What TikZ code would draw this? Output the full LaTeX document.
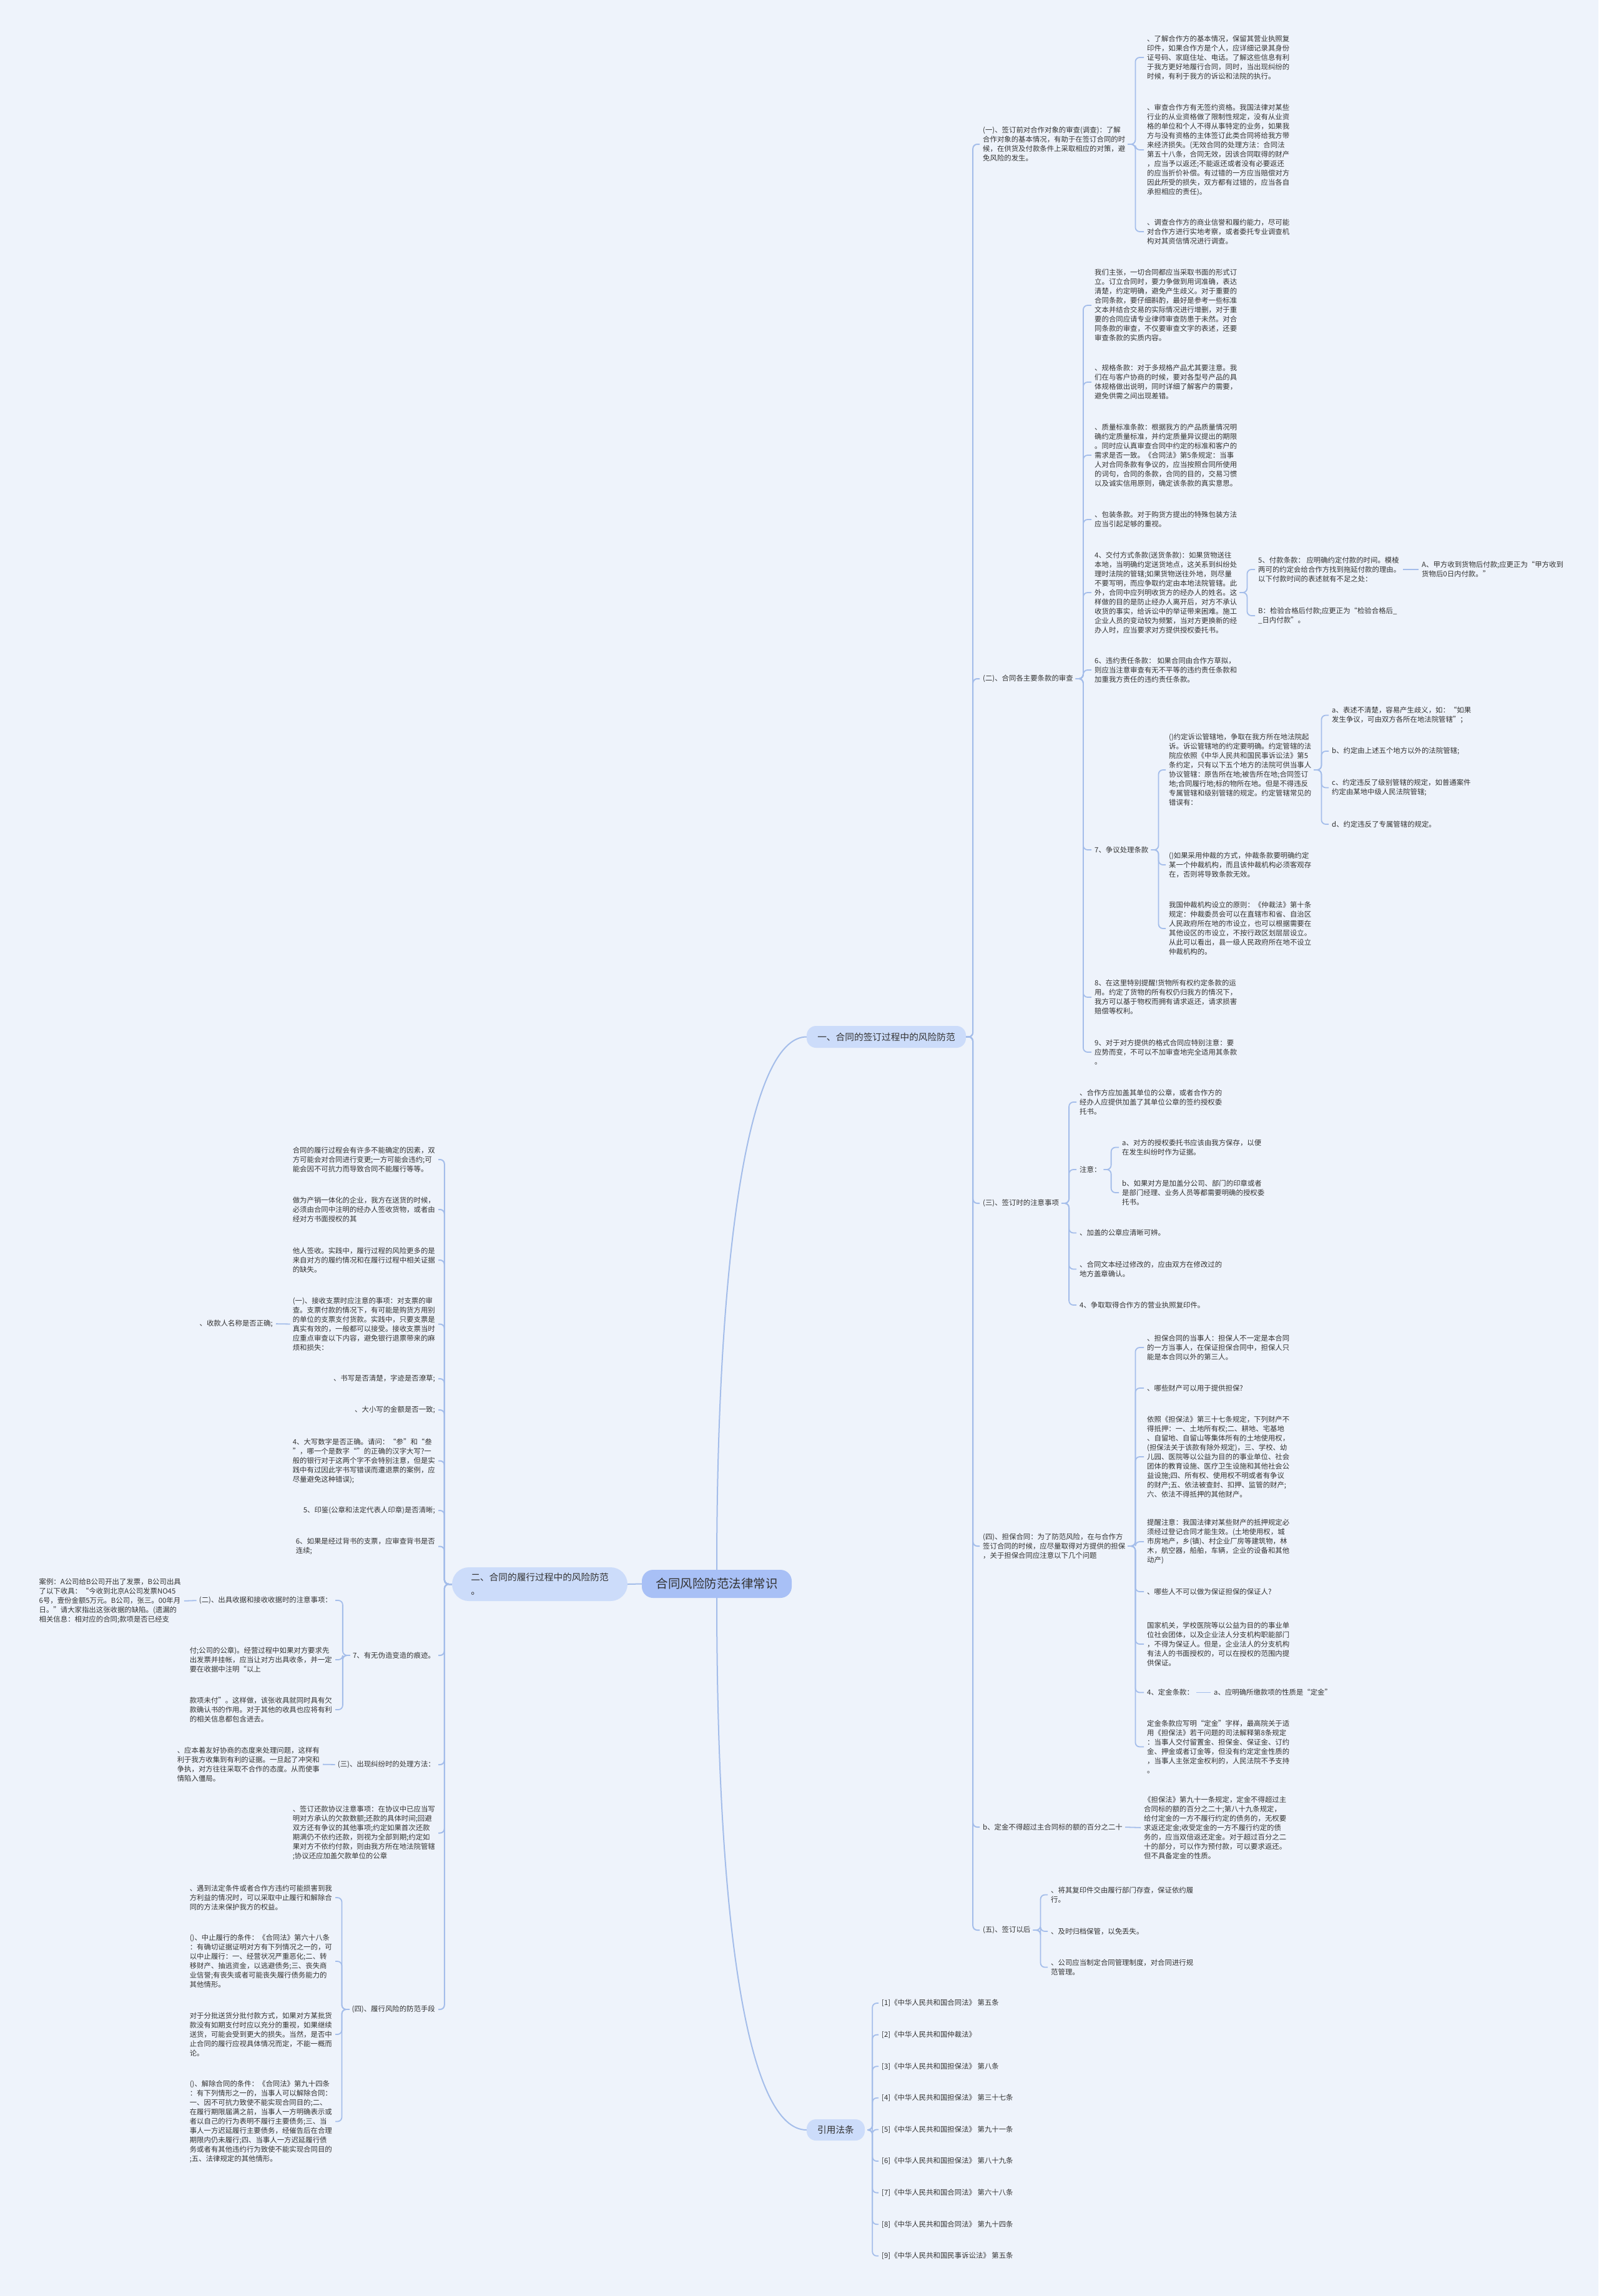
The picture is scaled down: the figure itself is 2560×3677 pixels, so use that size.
\documentclass[tikz,border=0pt]{standalone}
\usepackage{fontspec}
\setmainfont{Noto Sans CJK SC}
\definecolor{bgc}{HTML}{EEF3FB}
\definecolor{linec}{HTML}{A4BDEA}
\definecolor{rootc}{HTML}{A8C0F6}
\definecolor{mainc}{HTML}{CCDCFA}
\definecolor{textc}{HTML}{333333}

\begin{document}
\begin{tikzpicture}[x=1pt,y=-1pt,
  txt/.style={inner sep=0pt,align=left,text=textc,font=\fontsize{11.4}{15}\selectfont},
  rt/.style={txt,anchor=west},
  lt/.style={txt,anchor=east},
  link/.style={draw=linec,line width=1.8pt,rounded corners=7pt,shorten <=4pt,shorten >=5pt},
  trunk/.style={draw=linec,line width=2pt,rounded corners=7pt},
  mainbox/.style={fill=mainc,text=textc,inner sep=0pt,font=\fontsize{14.7}{22}\selectfont}]
\fill[bgc] (0,0) rectangle (2560,3677);
\useasboundingbox (0,0) rectangle (2560,3677);

\node[fill=rootc,rounded corners=18pt,minimum width=240pt,minimum height=45pt,inner sep=0pt,text=textc,font=\fontsize{19.5}{22}\selectfont] (root) at (1148,2536.5) {合同风险防范法律常识};
\node[mainbox,rounded corners=15pt,minimum width=255pt,minimum height=35pt] (sign) at (1419.5,1660.5) {一、合同的签订过程中的风险防范};
\node[mainbox,rounded corners=27pt,minimum width=281pt,minimum height=54pt,align=left] (perf) at (864.5,2537) {二、合同的履行过程中的风险防范\\。};
\node[mainbox,rounded corners=15pt,minimum width=93pt,minimum height=34pt] (law) at (1338.5,3411) {引用法条};

% right side
\node[rt] (sa) at (1574,231) {(一)、签订前对合作对象的审查(调查)：了解\\合作对象的基本情况，有助于在签订合同的时\\候，在供货及付款条件上采取相应的对策，避\\免风险的发生。};
\node[rt] (sa1) at (1837,92) {、了解合作方的基本情况，保留其营业执照复\\印件，如果合作方是个人，应详细记录其身份\\证号码、家庭住址、电话。了解这些信息有利\\于我方更好地履行合同，同时，当出现纠纷的\\时候，有利于我方的诉讼和法院的执行。};
\node[rt] (sa2) at (1837,240) {、审查合作方有无签约资格。我国法律对某些\\行业的从业资格做了限制性规定，没有从业资\\格的单位和个人不得从事特定的业务，如果我\\方与没有资格的主体签订此类合同将给我方带\\来经济损失。(无效合同的处理方法：合同法\\第五十八条，合同无效，因该合同取得的财产\\，应当予以返还;不能返还或者没有必要返还\\的应当折价补偿。有过错的一方应当赔偿对方\\因此所受的损失，双方都有过错的，应当各自\\承担相应的责任)。};
\node[rt] (sa3) at (1837,371) {、调查合作方的商业信誉和履约能力，尽可能\\对合作方进行实地考察，或者委托专业调查机\\构对其资信情况进行调查。};

\node[rt] (sb) at (1574,1087) {(二)、合同各主要条款的审查};
\node[rt] (sb1) at (1753,489) {我们主张，一切合同都应当采取书面的形式订\\立。订立合同时，要力争做到用词准确，表达\\清楚，约定明确，避免产生歧义。对于重要的\\合同条款，要仔细斟酌，最好是参考一些标准\\文本并结合交易的实际情况进行增删，对于重\\要的合同应请专业律师审查防患于未然。对合\\同条款的审查，不仅要审查文字的表述，还要\\审查条款的实质内容。};
\node[rt] (sb2) at (1753,612) {、规格条款：对于多规格产品尤其要注意。我\\们在与客户协商的时候，要对各型号产品的具\\体规格做出说明，同时详细了解客户的需要，\\避免供需之间出现差错。};
\node[rt] (sb3) at (1753,729) {、质量标准条款：根据我方的产品质量情况明\\确约定质量标准，并约定质量异议提出的期限\\。同时应认真审查合同中约定的标准和客户的\\需求是否一致。《合同法》第5条规定：当事\\人对合同条款有争议的，应当按照合同所使用\\的词句，合同的条款，合同的目的，交易习惯\\以及诚实信用原则，确定该条款的真实意思。};
\node[rt] (sb4) at (1753,832) {、包装条款。对于购货方提出的特殊包装方法\\应当引起足够的重视。};
\node[rt] (sb5) at (1753,949) {4、交付方式条款(送货条款)：如果货物送往\\本地，当明确约定送货地点，这关系到纠纷处\\理时法院的管辖;如果货物送往外地，则尽量\\不要写明，而应争取约定由本地法院管辖。此\\外，合同中应列明收货方的经办人的姓名。这\\样做的目的是防止经办人离开后，对方不承认\\收货的事实，给诉讼中的举证带来困难。施工\\企业人员的变动较为频繁，当对方更换新的经\\办人时，应当要求对方提供授权委托书。};
\node[rt] (sb5a) at (2015,912) {5、付款条款： 应明确约定付款的时间。模棱\\两可的约定会给合作方找到拖延付款的理由。\\以下付款时间的表述就有不足之处：};
\node[rt] (sb5c) at (2277,912) {A、甲方收到货物后付款;应更正为“甲方收到\\货物后0日内付款。”};
\node[rt] (sb5b) at (2015,986) {B：检验合格后付款;应更正为“检验合格后\_\\\_日内付款”。};
\node[rt] (sb6) at (1753,1073) {6、违约责任条款： 如果合同由合作方草拟，\\则应当注意审查有无不平等的违约责任条款和\\加重我方责任的违约责任条款。};
\node[rt] (sb7) at (1753,1361) {7、争议处理条款};
\node[rt] (sb7a) at (1872,1233) {()约定诉讼管辖地，争取在我方所在地法院起\\诉。诉讼管辖地的约定要明确。约定管辖的法\\院应依照《中华人民共和国民事诉讼法》第5\\条约定，只有以下五个地方的法院可供当事人\\协议管辖：原告所在地;被告所在地;合同签订\\地;合同履行地;标的物所在地。但是不得违反\\专属管辖和级别管辖的规定。约定管辖常见的\\错误有：};
\node[rt] (sb7a1) at (2133,1145.5) {a、表述不清楚，容易产生歧义，如：“如果\\发生争议，可由双方各所在地法院管辖”；};
\node[rt] (sb7a2) at (2133,1203) {b、约定由上述五个地方以外的法院管辖;};
\node[rt] (sb7a3) at (2133,1261.5) {c、约定违反了级别管辖的规定，如普通案件\\约定由某地中级人民法院管辖;};
\node[rt] (sb7a4) at (2133,1320) {d、约定违反了专属管辖的规定。};
\node[rt] (sb7b) at (1872,1385) {()如果采用仲裁的方式，仲裁条款要明确约定\\某一个仲裁机构，而且该仲裁机构必须客观存\\在，否则将导致条款无效。};
\node[rt] (sb7c) at (1872,1487) {我国仲裁机构设立的原则：《仲裁法》第十条\\规定：仲裁委员会可以在直辖市和省、自治区\\人民政府所在地的市设立，也可以根据需要在\\其他设区的市设立，不按行政区划层层设立。\\从此可以看出，县一级人民政府所在地不设立\\仲裁机构的。};
\node[rt] (sb8) at (1753,1597) {8、在这里特别提醒!货物所有权约定条款的运\\用。约定了货物的所有权仍归我方的情况下，\\我方可以基于物权而拥有请求返还，请求损害\\赔偿等权利。};
\node[rt] (sb9) at (1753,1685) {9、对于对方提供的格式合同应特别注意：要\\应势而变，不可以不加审查地完全适用其条款\\。};

\node[rt] (sc) at (1574,1927) {(三)、签订时的注意事项};
\node[rt] (sc1) at (1729,1765) {、合作方应加盖其单位的公章，或者合作方的\\经办人应提供加盖了其单位公章的签约授权委\\托书。};
\node[rt] (sc2) at (1729,1873) {注意：};
\node[rt] (sc2a) at (1797,1837.5) {a、对方的授权委托书应该由我方保存，以便\\在发生纠纷时作为证据。};
\node[rt] (sc2b) at (1797,1910) {b、如果对方是加盖分公司、部门的印章或者\\是部门经理、业务人员等都需要明确的授权委\\托书。};
\node[rt] (sc3) at (1729,1974.5) {、加盖的公章应清晰可辨。};
\node[rt] (sc4) at (1729,2032.5) {、合同文本经过修改的，应由双方在修改过的\\地方盖章确认。};
\node[rt] (sc5) at (1729,2090) {4、争取取得合作方的营业执照复印件。};

\node[rt] (sd) at (1574,2476) {(四)、担保合同：为了防范风险，在与合作方\\签订合同的时候，应尽量取得对方提供的担保\\，关于担保合同应注意以下几个问题};
\node[rt] (sd1) at (1837,2158) {、担保合同的当事人：担保人不一定是本合同\\的一方当事人，在保证担保合同中，担保人只\\能是本合同以外的第三人。};
\node[rt] (sd2) at (1837,2223) {、哪些财产可以用于提供担保?};
\node[rt] (sd3) at (1837,2333) {依照《担保法》第三十七条规定，下列财产不\\得抵押：一、土地所有权;二、耕地、宅基地\\、自留地、自留山等集体所有的土地使用权，\\(担保法关于该款有除外规定)，三、学校、幼\\儿园、医院等以公益为目的的事业单位、社会\\团体的教育设施、医疗卫生设施和其他社会公\\益设施;四、所有权、使用权不明或者有争议\\的财产;五、依法被查封、扣押、监管的财产;\\六、依法不得抵押的其他财产。};
\node[rt] (sd4) at (1837,2469) {提醒注意：我国法律对某些财产的抵押规定必\\须经过登记合同才能生效。(土地使用权，城\\市房地产，乡(镇)、村企业厂房等建筑物，林\\木，航空器，船舶，车辆，企业的设备和其他\\动产)};
\node[rt] (sd5) at (1837,2549) {、哪些人不可以做为保证担保的保证人?};
\node[rt] (sd6) at (1837,2633) {国家机关，学校医院等以公益为目的的事业单\\位社会团体，以及企业法人分支机构职能部门\\，不得为保证人。但是，企业法人的分支机构\\有法人的书面授权的，可以在授权的范围内提\\供保证。};
\node[rt] (sd7) at (1837,2710.5) {4、定金条款：};
\node[rt] (sd7a) at (1944,2710.5) {a、应明确所缴款项的性质是“定金”};
\node[rt] (sd8) at (1837,2797.5) {定金条款应写明“定金”字样，最高院关于适\\用《担保法》若干问题的司法解释第8条规定\\：当事人交付留置金、担保金、保证金、订约\\金、押金或者订金等，但没有约定定金性质的\\，当事人主张定金权利的，人民法院不予支持\\。};
\node[rt] (sdb) at (1574,2926) {b、定金不得超过主合同标的额的百分之二十};
\node[rt] (sdb1) at (1832,2927) {《担保法》第九十一条规定，定金不得超过主\\合同标的额的百分之二十;第八十九条规定，\\给付定金的一方不履行约定的债务的，无权要\\求返还定金;收受定金的一方不履行约定的债\\务的，应当双倍返还定金。对于超过百分之二\\十的部分，可以作为预付款，可以要求返还。\\但不具备定金的性质。};

\node[rt] (se) at (1574,3091) {(五)、签订以后};
\node[rt] (se1) at (1683,3034.5) {、将其复印件交由履行部门存查，保证依约履\\行。};
\node[rt] (se2) at (1683,3093) {、及时归档保管，以免丢失。};
\node[rt] (se3) at (1683,3150.5) {、公司应当制定合同管理制度，对合同进行规\\范管理。};

\foreach \t [count=\i] in {合同法》 第五条,仲裁法》,担保法》 第八条,担保法》 第三十七条,担保法》 第九十一条,担保法》 第八十九条,合同法》 第六十八条,合同法》 第九十四条,民事诉讼法》 第五条}
  \node[rt] (law\i) at (1412,3157.4+50.6*\i) {[\i]《中华人民共和国\t};

% left side
\node[lt] (pl1) at (697,1857) {合同的履行过程会有许多不能确定的因素，双\\方可能会对合同进行变更;一方可能会违约;可\\能会因不可抗力而导致合同不能履行等等。};
\node[lt] (pl2) at (697,1937) {做为产销一体化的企业，我方在送货的时候，\\必须由合同中注明的经办人签收货物，或者由\\经对方书面授权的其};
\node[lt] (pl3) at (697,2018) {他人签收。实践中，履行过程的风险更多的是\\来自对方的履约情况和在履行过程中相关证据\\的缺失。};
\node[lt] (pl4) at (697,2120.5) {(一)、接收支票时应注意的事项：对支票的审\\查。支票付款的情况下，有可能是购货方用别\\的单位的支票支付货款。实践中，只要支票是\\真实有效的，一般都可以接受。接收支票当时\\应重点审查以下内容，避免银行退票带来的麻\\烦和损失：};
\node[lt] (pl4a) at (437,2120) {、收款人名称是否正确;};
\node[lt] (pl5) at (697,2208) {、书写是否清楚，字迹是否潦草;};
\node[lt] (pl6) at (697,2258) {、大小写的金额是否一致;};
\node[lt] (pl7) at (697,2339.5) {4、大写数字是否正确。请问：“参”和“叁\\”，哪一个是数字“”的正确的汉字大写?一\\般的银行对于这两个字不会特别注意，但是实\\践中有过因此字书写错误而遭退票的案例，应\\尽量避免这种错误);};
\node[lt] (pl8) at (697,2419) {5、印鉴(公章和法定代表人印章)是否清晰;};
\node[lt] (pl9) at (697,2476.5) {6、如果是经过背书的支票，应审查背书是否\\连续;};
\node[lt] (pl10) at (697,2651) {7、有无伪造变造的痕迹。};
\node[lt] (pl10a) at (532,2563) {(二)、出具收据和接收收据时的注意事项：};
\node[lt] (pl10d) at (290,2564) {案例：A公司给B公司开出了发票，B公司出具\\了以下收具：“今收到北京A公司发票NO45\\6号，壹份金额5万元。B公司，张三。00年月\\日。”请大家指出这张收据的缺陷。(遗漏的\\相关信息：相对应的合同;款项是否已经支};
\node[lt] (pl10b) at (532,2658) {付;公司的公章)。经营过程中如果对方要求先\\出发票并挂帐，应当让对方出具收条，并一定\\要在收据中注明“以上};
\node[lt] (pl10c) at (532,2738) {款项未付”。这样做，该张收具就同时具有欠\\款确认书的作用。对于其他的收具也应将有利\\的相关信息都包含进去。};
\node[lt] (pl11) at (697,2826) {(三)、出现纠纷时的处理方法：};
\node[lt] (pl11a) at (512,2825.5) {、应本着友好协商的态度来处理问题，这样有\\利于我方收集到有利的证据。一旦起了冲突和\\争执，对方往往采取不合作的态度。从而使事\\情陷入僵局。};
\node[lt] (pl12) at (697,2935.5) {、签订还款协议注意事项：在协议中已应当写\\明对方承认的欠款数额;还款的具体时间;回避\\双方还有争议的其他事项;约定如果首次还款\\期满仍不依约还款，则视为全部到期;约定如\\果对方不依约付款，则由我方所在地法院管辖\\;协议还应加盖欠款单位的公章};
\node[lt] (pl13) at (697,3218) {(四)、履行风险的防范手段};
\node[lt] (pl13a) at (532,3039) {、遇到法定条件或者合作方违约可能损害到我\\方利益的情况时，可以采取中止履行和解除合\\同的方法来保护我方的权益。};
\node[lt] (pl13b) at (532,3141) {()、中止履行的条件：《合同法》第六十八条\\：有确切证据证明对方有下列情况之一的，可\\以中止履行：一、经营状况严重恶化;二、转\\移财产、抽逃资金，以逃避债务;三、丧失商\\业信誉;有丧失或者可能丧失履行债务能力的\\其他情形。};
\node[lt] (pl13c) at (532,3258) {对于分批送货分批付款方式，如果对方某批货\\款没有如期支付时应以充分的重视，如果继续\\送货，可能会受到更大的损失。当然，是否中\\止合同的履行应视具体情况而定，不能一概而\\论。};
\node[lt] (pl13d) at (532,3397.5) {()、解除合同的条件：《合同法》第九十四条\\：有下列情形之一的，当事人可以解除合同：\\一、因不可抗力致使不能实现合同目的;二、\\在履行期限届满之前，当事人一方明确表示或\\者以自己的行为表明不履行主要债务;三、当\\事人一方迟延履行主要债务，经催告后在合理\\期限内仍未履行;四、当事人一方迟延履行债\\务或者有其他违约行为致使不能实现合同目的\\;五、法律规定的其他情形。};

\draw[trunk] (root.north) .. controls (1148,2000) and (1200,1660.5) .. (sign.west);
\draw[trunk] (root.south) .. controls (1148,3100) and (1200,3411) .. (law.west);
\draw[trunk] (root.west) -- (perf.east);
\foreach \c in {sa,sb,sc,sd,sdb,se}
  \draw[trunk] (sign.east) -- ++(11,0) |- ([xshift=-5pt]\c.west);
\foreach \i in {1,...,13}
  \draw[trunk] (perf.west) -- ++(-12,0) |- ([xshift=5pt]pl\i.east);
\foreach \i in {1,...,9}
  \draw[link] (law.east) -- ++(12,0) |- (law\i.west);

\foreach \i in {1,2,3}
  \draw[link] (sa.east) -- ++(16,0) |- (sa\i.west);
\foreach \i in {1,...,9}
  \draw[link] (sb.east) -- ++(16,0) |- (sb\i.west);
\foreach \c in {sb5a,sb5b}
  \draw[link] (sb5.east) -- ++(16,0) |- (\c.west);
\draw[link] (sb5a.east) -- (sb5c.west);
\foreach \c in {sb7a,sb7b,sb7c}
  \draw[link] (sb7.east) -- ++(16,0) |- (\c.west);
\foreach \i in {1,...,4}
  \draw[link] (sb7a.east) -- ++(16,0) |- (sb7a\i.west);
\foreach \i in {1,...,5}
  \draw[link] (sc.east) -- ++(16,0) |- (sc\i.west);
\foreach \c in {sc2a,sc2b}
  \draw[link] (sc2.east) -- ++(16,0) |- (\c.west);
\foreach \i in {1,...,8}
  \draw[link] (sd.east) -- ++(16,0) |- (sd\i.west);
\draw[link] (sd7.east) -- (sd7a.west);
\draw[link] (sdb.east) -- (sdb1.west);
\foreach \i in {1,2,3}
  \draw[link] (se.east) -- ++(16,0) |- (se\i.west);

\draw[link] (pl4.west) -- (pl4a.east);
\foreach \c in {pl10a,pl10b,pl10c}
  \draw[link] (pl10.west) -- ++(-16,0) |- (\c.east);
\draw[link] (pl10a.west) -- (pl10d.east);
\draw[link] (pl11.west) -- (pl11a.east);
\foreach \c in {pl13a,pl13b,pl13c,pl13d}
  \draw[link] (pl13.west) -- ++(-16,0) |- (\c.east);
\end{tikzpicture}
\end{document}
